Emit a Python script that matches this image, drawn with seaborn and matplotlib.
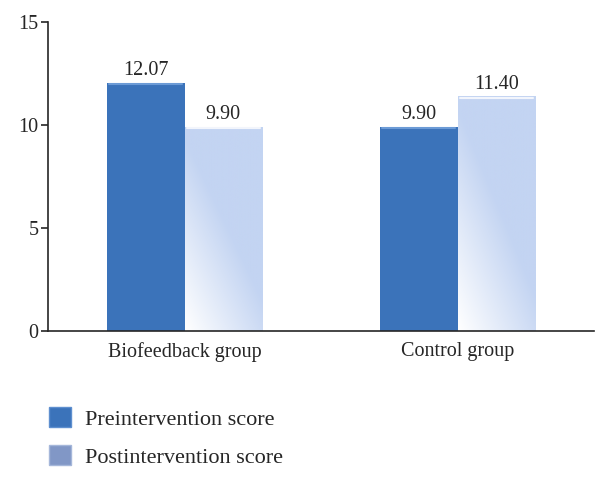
import numpy as np
import pandas as pd
import seaborn as sns
import matplotlib.pyplot as plt
from matplotlib.patches import Patch
from matplotlib.colors import LinearSegmentedColormap

# data
groups = ['Biofeedback group', 'Control group']
series = ['Preintervention score', 'Postintervention score']
pre_scores = [12.07, 9.90]
post_scores = [9.90, 11.40]

df = pd.DataFrame({
    'group': groups * 2,
    'score': pre_scores + post_scores,
    'series': [series[0]] * 2 + [series[1]] * 2,
})

sns.set_style('ticks')
plt.rcParams['font.family'] = ['Liberation Serif', 'DejaVu Serif']

fig = plt.figure(figsize=(6.08, 4.82), dpi=100)
ax = fig.add_axes([0.079, 0.313, 0.898, 0.641])

pal = {series[0]: '#3B73BA', series[1]: '#C9D9F3'}
sns.barplot(data=df, x='group', y='score', hue='series', palette=pal,
            width=0.57, saturation=1, legend=False, ax=ax, edgecolor='none')

# gradient on the light bars: white at bottom-left, blue at top-right
grad = np.linspace(0, 1, 100)
gx, gy = np.meshgrid(grad, grad[::-1])
g = np.clip((0.8 * gx + gy) / 0.95, 0, 1)
cmap = LinearSegmentedColormap.from_list('lb', ['#FFFFFF', '#C3D4F2'])
for bar in ax.containers[1]:
    x0, y0 = bar.get_x(), bar.get_y()
    w, h = bar.get_width(), bar.get_height()
    bar.set_facecolor('none')
    im = ax.imshow(g, cmap=cmap, extent=[x0, x0 + w, y0, y0 + h],
                   aspect='auto', origin='upper', zorder=bar.get_zorder())
    im.set_clip_path(bar)
    ax.plot([x0 + 0.01, x0 + w - 0.01], [y0 + h - 0.06] * 2, color='#F2F5FC', lw=1.5, zorder=3)
for bar in ax.containers[0]:
    x0, h, w = bar.get_x(), bar.get_height(), bar.get_width()
    ax.plot([x0 + 0.01, x0 + w - 0.01], [h - 0.06] * 2, color='#6C9BD6', lw=1.5, zorder=3)

for c in ax.containers:
    ax.bar_label(c, fmt='%.2f', fontsize=14.5, padding=2)

ax.set_xlim(-0.5, 1.5)
ax.set_ylim(0, 15)
ax.set_yticks([0, 5, 10, 15])
ax.set_xlabel('')
ax.set_ylabel('')
ax.tick_params(axis='y', labelsize=14.5, length=5, width=1.2, direction='out', pad=2)
ax.tick_params(axis='x', labelsize=14.5, length=0, pad=8)
sns.despine(ax=ax)
ax.spines['left'].set_linewidth(1.2)
ax.spines['bottom'].set_linewidth(1.2)

handles = [Patch(facecolor='#3B73BA', edgecolor='#5E8FCF', label=series[0]),
           Patch(facecolor='#8197C6', edgecolor='#A5B7DA', label=series[1])]
fig.legend(handles=handles, loc='upper left', bbox_to_anchor=(0.066, 0.174),
           frameon=False, fontsize=16, handlelength=1.0, handleheight=1.0,
           labelspacing=0.7, handletextpad=0.6, borderaxespad=0)

fig.savefig('out.png', dpi=100)
